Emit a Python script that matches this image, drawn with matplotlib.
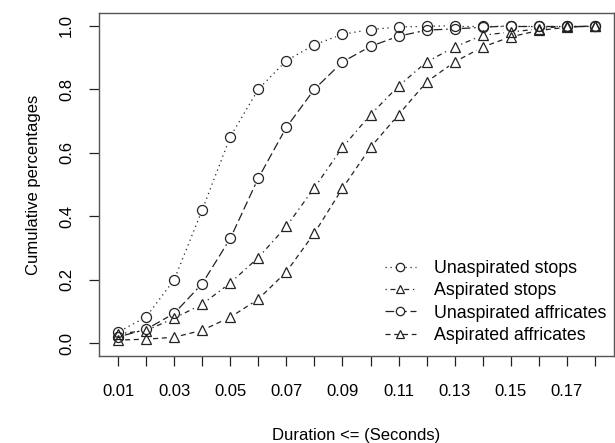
import numpy as np
import matplotlib
matplotlib.use("Agg")
import matplotlib.pyplot as plt
from matplotlib.lines import Line2D

plt.rcParams['font.family'] = ['Liberation Sans', 'DejaVu Sans']

durations = [0.01, 0.02, 0.03, 0.04, 0.05, 0.06, 0.07, 0.08, 0.09,
             0.10, 0.11, 0.12, 0.13, 0.14, 0.15, 0.16, 0.17, 0.18]
x_labels = ["0.01", "", "0.03", "", "0.05", "", "0.07", "", "0.09",
            "", "0.11", "", "0.13", "", "0.15", "", "0.17", ""]
y_ticks = [0.0, 0.2, 0.4, 0.6, 0.8, 1.0]
y_labels = ["0.0", "0.2", "0.4", "0.6", "0.8", "1.0"]

unasp_stops = [0.035, 0.083, 0.20, 0.42, 0.65, 0.80, 0.89, 0.94, 0.973,
               0.988, 0.996, 0.998, 1.0, 1.0, 1.0, 1.0, 1.0, 1.0]
asp_stops = [0.03, 0.04, 0.079, 0.123, 0.19, 0.27, 0.368, 0.49, 0.617,
             0.72, 0.81, 0.886, 0.933, 0.97, 0.98, 0.99, 1.0, 1.0]
unasp_affr = [0.02, 0.044, 0.094, 0.188, 0.33, 0.52, 0.68, 0.80, 0.886,
              0.935, 0.967, 0.986, 0.99, 0.995, 1.0, 1.0, 1.0, 1.0]
asp_affr = [0.01, 0.013, 0.019, 0.041, 0.082, 0.139, 0.225, 0.347, 0.488,
            0.617, 0.72, 0.823, 0.886, 0.933, 0.965, 0.985, 0.995, 1.0]

series = [
    ("Unaspirated stops", unasp_stops, "o", (0, (1, 3))),
    ("Aspirated stops", asp_stops, "^", (0, (1, 3, 4, 3))),
    ("Unaspirated affricates", unasp_affr, "o", (0, (7, 3))),
    ("Aspirated affricates", asp_affr, "^", (0, (4, 3))),
]

col = "#222222"
fs = 12

fig = plt.figure(figsize=(6.15, 4.43), dpi=100)
ax = fig.add_axes([99 / 615, 1 - 356 / 443, 515 / 615, 343 / 443])
pad_x = 0.04 * (durations[-1] - durations[0])
ax.set_xlim(durations[0] - pad_x, durations[-1] + pad_x)
ax.set_ylim(-0.04, 1.04)

# lines broken around the points, like R type="b"
gap = 7.0
handles = []
for name, vals, mk, ls in series:
    pts = ax.transData.transform(np.column_stack([durations, vals]))
    inv = ax.transData.inverted()
    for p0, p1 in zip(pts[:-1], pts[1:]):
        d = p1 - p0
        dist = np.hypot(*d)
        if dist <= 2 * gap:
            continue
        u = d / dist
        a = inv.transform(p0 + u * gap)
        b = inv.transform(p1 - u * gap)
        ax.plot([a[0], b[0]], [a[1], b[1]], color=col, lw=0.9, linestyle=ls)
    ax.plot(durations, vals, linestyle="none", marker=mk, markersize=7.2,
            markerfacecolor="none", markeredgecolor=col, markeredgewidth=0.9)
    handles.append(Line2D([], [], color=col, lw=0.9, linestyle=ls, marker=mk,
                          markersize=6, markerfacecolor="white",
                          markeredgecolor=col, markeredgewidth=0.9))

ax.set_xticks(durations)
ax.set_xticklabels(x_labels)
ax.set_yticks(y_ticks)
ax.set_yticklabels(y_labels, rotation=90, va="center")
ax.tick_params(axis="both", direction="out", length=7, width=0.9, colors=col,
               labelsize=fs, labelcolor="black")
ax.tick_params(axis="x", pad=13)
ax.tick_params(axis="y", pad=11)
for s in ax.spines.values():
    s.set_color("#555555")
    s.set_linewidth(1.0)

ax.set_xlabel("Duration <= (Seconds)", fontsize=fs, labelpad=21)
ax.set_ylabel("Cumulative percentages", fontsize=fs, labelpad=13)

ax.legend(handles, [s[0] for s in series], loc="lower right",
          bbox_to_anchor=(0.986, 0.035), frameon=False, fontsize=12.8,
          handlelength=1.75, handletextpad=1.05, labelspacing=0.3,
          borderaxespad=0.0, borderpad=0.0)

fig.savefig("out.png", dpi=100)
